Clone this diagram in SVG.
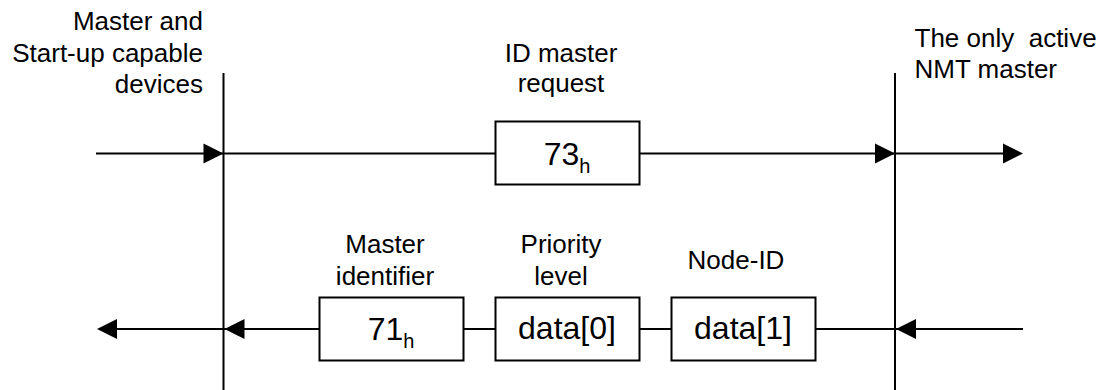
<svg xmlns="http://www.w3.org/2000/svg" xmlns:xlink="http://www.w3.org/1999/xlink" width="1106" height="390" viewBox="0 0 1106 390">
<style>
text{font-family:"Liberation Sans",Arial,sans-serif;fill:#000}
.lbl{font-size:26px}
.mid{text-anchor:middle}
.box{fill:#fff;stroke:#000;stroke-width:2}
.ln{stroke:#000;stroke-width:2;fill:none}
.bt{font-size:32px}
.sub{font-size:20px}
</style>
<defs>
<path id="ahR" d="M0,0 L-20,-10 L-20,10 Z" fill="#000"/>
<path id="ahL" d="M0,0 L20,-10 L20,10 Z" fill="#000"/>
</defs>
<g id="connectors">
<line class="ln" x1="223.5" y1="73" x2="223.5" y2="390"/>
<line class="ln" x1="895" y1="73" x2="895" y2="390"/>
<line class="ln" x1="96" y1="153.5" x2="1004" y2="153.5"/>
<use xlink:href="#ahR" x="223.5" y="153.5"/>
<use xlink:href="#ahR" x="895" y="153.5"/>
<use xlink:href="#ahR" x="1023" y="153.5"/>
<line class="ln" x1="114" y1="329" x2="1023" y2="329"/>
<use xlink:href="#ahL" x="97" y="329"/>
<use xlink:href="#ahL" x="224.5" y="329"/>
<use xlink:href="#ahL" x="896" y="329"/>
</g>
<g id="left-label">
<text class="lbl" x="203" y="30" text-anchor="end">Master and</text>
<text class="lbl" x="203" y="62" text-anchor="end">Start-up capable</text>
<text class="lbl" x="203" y="93" text-anchor="end">devices</text>
</g>
<g id="right-label">
<text class="lbl" x="914.5" y="47" xml:space="preserve">The only  active</text>
<text class="lbl" x="914.5" y="78">NMT master</text>
</g>
<g id="id-request">
<text class="lbl mid" x="561" y="62">ID master</text>
<text class="lbl mid" x="561" y="92">request</text>
<rect class="box" x="495.5" y="121.5" width="144" height="63"/>
<text class="mid" x="567" y="165"><tspan class="bt">73</tspan><tspan class="sub" dy="8">h</tspan></text>
</g>
<g id="master-identifier">
<text class="lbl mid" x="385" y="253">Master</text>
<text class="lbl mid" x="385" y="285">identifier</text>
<rect class="box" x="319.5" y="297.5" width="144" height="63"/>
<text class="mid" x="391" y="340"><tspan class="bt">71</tspan><tspan class="sub" dy="8">h</tspan></text>
</g>
<g id="priority-level">
<text class="lbl mid" x="561" y="253">Priority</text>
<text class="lbl mid" x="561" y="285">level</text>
<rect class="box" x="495.5" y="297.5" width="144" height="63"/>
<text class="bt mid" x="567" y="339">data[0]</text>
</g>
<g id="node-id">
<text class="lbl mid" x="736" y="269">Node-ID</text>
<rect class="box" x="671.5" y="297.5" width="144" height="63"/>
<text class="bt mid" x="743" y="339">data[1]</text>
</g>
</svg>
